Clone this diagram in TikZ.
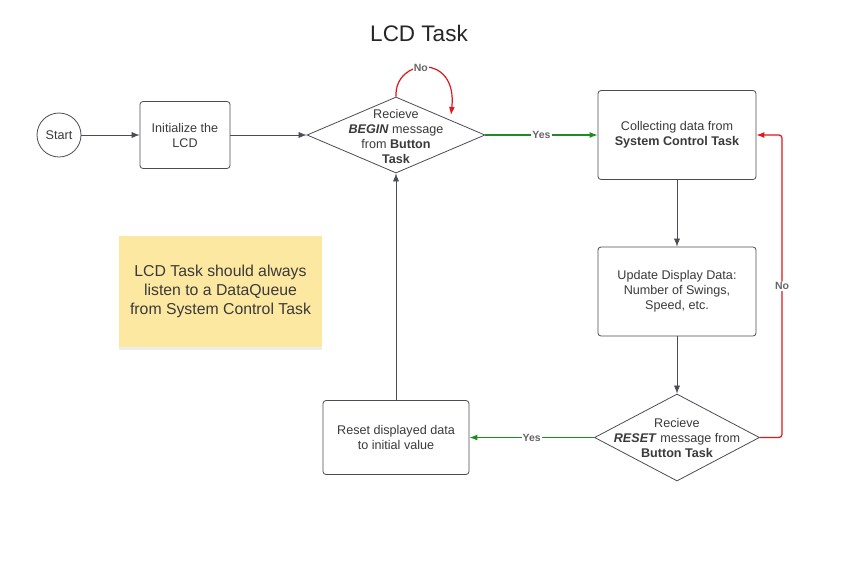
\documentclass[tikz,border=0pt]{standalone}
\usepackage{fontspec}
\setmainfont{Liberation Sans}
\usetikzlibrary{arrows.meta,shapes.geometric,shadows}
\definecolor{lineg}{HTML}{4A4D57}
\definecolor{txtg}{HTML}{3A3A3A}
\definecolor{redl}{HTML}{E0161B}
\definecolor{greenl}{HTML}{1E8C1E}
\definecolor{sticky}{HTML}{FDE8A2}
\tikzset{
  box/.style={draw=lineg, line width=0.8pt, rounded corners=3pt, fill=white, align=center, text=txtg, font=\fontsize{12.6}{15}\selectfont},
  dec/.style={draw=lineg, line width=0.8pt, diamond, fill=white, align=center, text=txtg, inner sep=0pt},
  dtext/.style={align=center, text=txtg, font=\fontsize{12.6}{15}\selectfont},
  conn/.style={draw=lineg, line width=0.6pt, -{Latex[length=8pt,width=6pt]}},
  redc/.style={draw=redl, line width=1.2pt, -{Latex[length=8pt,width=6pt]}},
  greenc/.style={draw=greenl, line width=1.2pt, -{Latex[length=8pt,width=6pt]}},
  lbl/.style={fill=white, inner sep=1pt, text=gray!80!black, font=\bfseries\fontsize{10.5}{12}\selectfont},
}
\begin{document}
\begin{tikzpicture}[x=1pt,y=-1pt]
\useasboundingbox (0,0) rectangle (847,566);
\fill[white] (0,0) rectangle (847,566);
\node[font=\fontsize{22.5}{26}\selectfont, text=black!85] (title) at (419,33) {LCD Task};
\node[draw=lineg, line width=0.8pt, circle, minimum size=44pt, inner sep=0pt, text=txtg, font=\fontsize{12.6}{15}\selectfont] (start) at (59,135) {Start};
\node[box, minimum width=90pt, minimum height=67pt] (init) at (185,135) {Initialize the\\LCD};
\node[dec, minimum width=178pt, minimum height=76pt, aspect=2.34] (d1) at (396,135) {};
\node[dtext] (d1t) at (396,136) {Recieve\\\textbf{\textit{BEGIN}} message\\from \textbf{Button}\\\textbf{Task}};
\node[box, minimum width=158pt, minimum height=89pt] (coll) at (677,135) {Collecting data from\\\textbf{System Control Task}};
\node[box, minimum width=158pt, minimum height=89pt] (upd) at (677,291.5) {Update Display Data:\\Number of Swings,\\Speed, etc.};
\node[dec, minimum width=165pt, minimum height=87pt, aspect=1.9] (d2) at (677,437.5) {};
\node[dtext] (d2t) at (677,437.5) {Recieve\\\textbf{\textit{RESET}} message from\\\textbf{Button Task}};
\node[box, minimum width=146pt, minimum height=74pt] (reset) at (396,437.5) {Reset displayed data\\to initial value};
\node[fill=sticky, minimum width=203pt, minimum height=111pt, align=center, text=txtg, font=\fontsize{15.8}{19}\selectfont, drop shadow={shadow xshift=0pt, shadow yshift=-3pt, opacity=0.15}] (note) at (220.5,291.5) {LCD Task should always\\listen to a DataQueue\\from System Control Task};
% connectors
\draw[conn] (start.east) -- (init.west);
\draw[conn] (init.east) -- (d1.west);
\draw[greenc] (d1.east) -- node[lbl, pos=0.5] {Yes} (coll.west);
\draw[redc] (d1.north) .. controls (394,58) and (458,52) .. (451,115) node[lbl, pos=0.45] {No};
\draw[conn] (coll.south) -- (upd.north);
\draw[conn] (upd.south) -- (d2.north);
\draw[greenc] (d2.west) -- node[lbl, pos=0.5] {Yes} (reset.east);
\coordinate (rc1) at (782,437.5);
\coordinate (rc2) at (782,135);
\draw[redc, rounded corners=3pt] (d2.east) -- (rc1) -- node[lbl, pos=0.5] {No} (rc2) -- (coll.east);
\draw[conn] (reset.north) -- (d1.south);
\end{tikzpicture}
\end{document}
